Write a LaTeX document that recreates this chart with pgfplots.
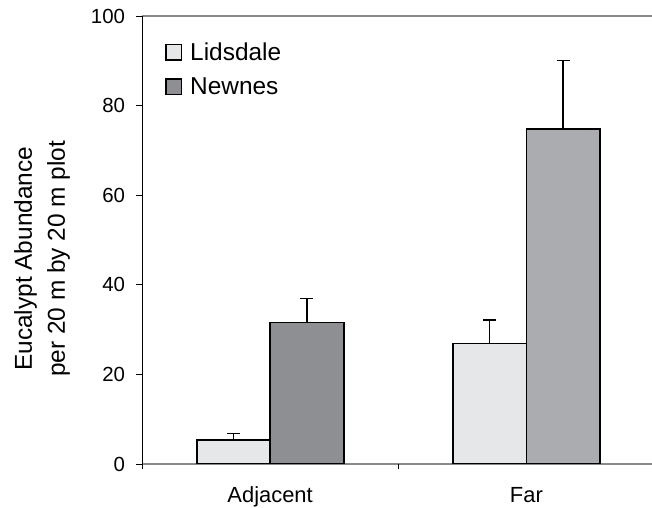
\documentclass[border=0pt]{standalone}
\usepackage{pgfplots}
\pgfplotsset{compat=1.18}
\usepackage{fontspec}
\setmainfont{Liberation Sans}
\definecolor{lids}{HTML}{E6E7E8}
\definecolor{newadj}{HTML}{8E8F92}
\definecolor{newfar}{HTML}{ABACAF}
\definecolor{axgray}{HTML}{8A8A8A}
\begin{document}
\begin{tikzpicture}
\begin{axis}[
  scale only axis,
  width=510bp, height=448bp,
  xmin=-0.5, xmax=1.49,
  ymin=0, ymax=100,
  ytick={0,20,40,60,80,100},
  xtick={0,1},
  xticklabels={Adjacent,Far},
  separate axis lines,
  axis x line=box,
  axis y line*=left,
  x axis line style={axgray, line width=1.2bp},
  y axis line style={black, line width=0.9bp},
  xtick pos=lower, ytick pos=left,
  tick align=outside,
  major tick length=5.5bp,
  x tick style={draw=none},
  y tick style={black, line width=0.9bp},
  extra x ticks={-0.5,0.5},
  extra x tick labels={},
  extra x tick style={x tick style={draw=black, line width=0.9bp}, major tick length=5.5bp},
  /pgf/number format/assume math mode=true,
  yticklabel style={font=\fontsize{20.5}{24}\selectfont, xshift=-8bp},
  xticklabel style={font=\fontsize{22}{26}\selectfont, yshift=-14bp},
  ylabel={Eucalypt Abundance\\per 20 m by 20 m plot},
  ylabel style={font=\fontsize{24.5}{33}\selectfont, align=center,
    at={(axis description cs:-0.196,0.458)}, anchor=center, rotate=0},
  ybar,
  bar width=73.5bp,
  legend style={draw=none, fill=none, at={(axis description cs:0.045,0.945)}, anchor=north west,
    font=\fontsize{24.5}{28}\selectfont, row sep=12bp, column sep=6bp, inner sep=0pt,
    legend cell align=left},
  legend image code/.code={\draw[#1, line width=1.6bp, draw=black] (0bp,-7.5bp) rectangle (15.5bp,8bp);},
  error bars/y dir=plus,
  error bars/y explicit,
  error bars/error bar style={line width=1.4bp, black},
  error bars/error mark options={rotate=90, line width=1.4bp, black, mark size=6.5bp},
]
\addplot[fill=lids, draw=black, line width=1.8bp, bar shift=-36.75bp]
  coordinates {(0,5.3) +- (0,1.5) (1,26.9) +- (0,5.2)};
\addlegendentry{Lidsdale}
\addplot[fill=newadj, draw=black, line width=1.8bp, bar shift=36.75bp]
  coordinates {(0,31.6) +- (0,5.4)};
\addlegendentry{Newnes}
\addplot[fill=newfar, draw=black, line width=1.8bp, bar shift=36.75bp, forget plot]
  coordinates {(1,74.8) +- (0,15.2)};
\end{axis}
\pgfresetboundingbox
\path[use as bounding box] ([shift={(-142bp,-44bp)}]current axis.south west) rectangle ([shift={(0bp,16bp)}]current axis.north east);
\end{tikzpicture}
\end{document}
